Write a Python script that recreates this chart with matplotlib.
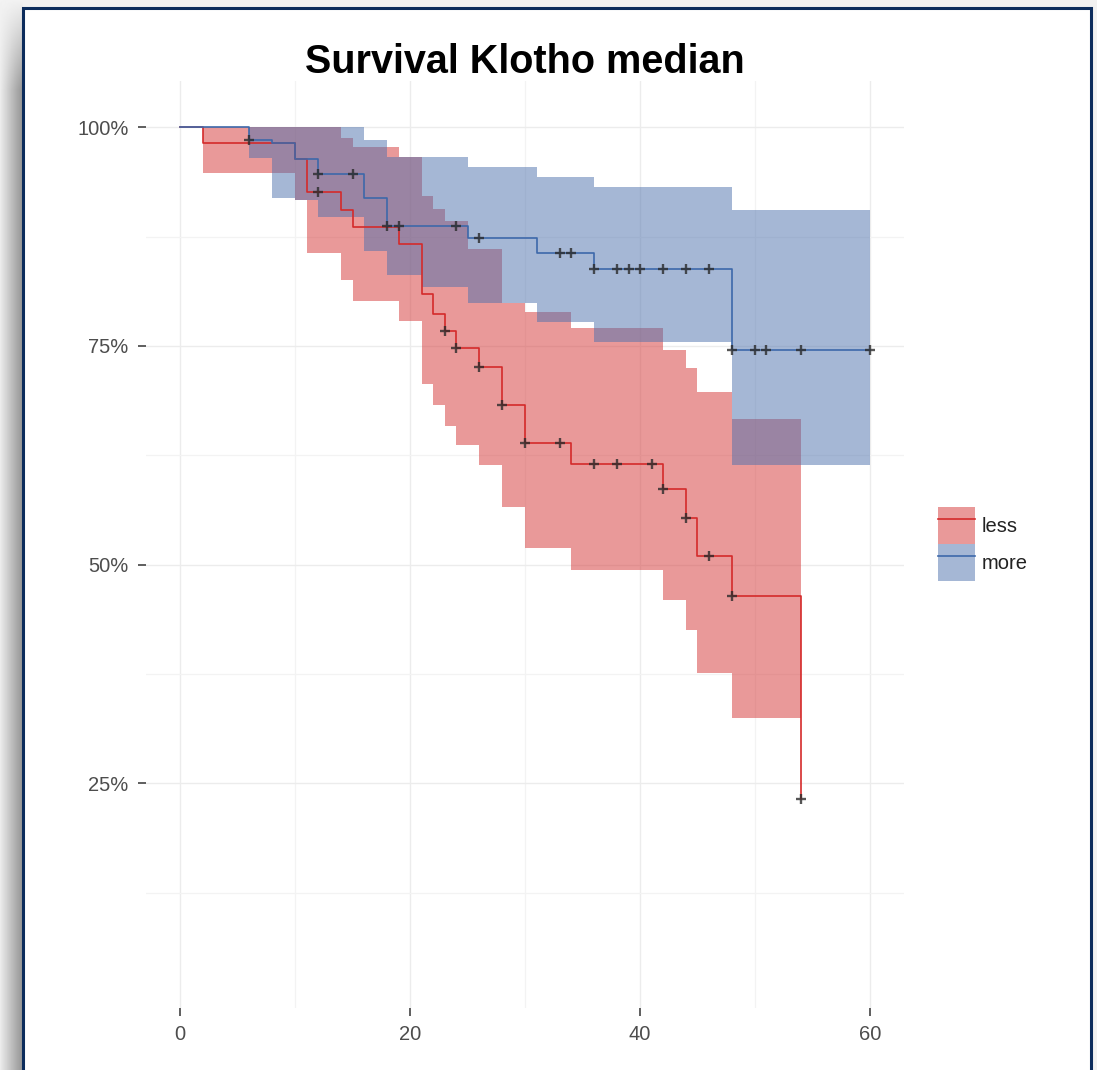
import numpy as np
import matplotlib
matplotlib.use('Agg')
import matplotlib.pyplot as plt
from matplotlib.patches import Rectangle, Patch
from matplotlib.lines import Line2D

plt.rcParams['font.family'] = ['Liberation Sans', 'DejaVu Sans']

# Kaplan-Meier estimate, group "less"
less_t = [0, 2, 10, 11, 14, 15, 19, 21, 22, 23, 24, 26, 28, 30, 34, 42, 44, 45, 48, 54]
less_s = [1.0, 0.982, 0.964, 0.926, 0.905, 0.886, 0.867, 0.810, 0.787, 0.767, 0.748,
          0.726, 0.682, 0.639, 0.615, 0.586, 0.553, 0.510, 0.464, 0.232]
less_cens = [12, 23, 24, 26, 28, 30, 33, 36, 38, 41, 42, 44, 46, 48, 54]

# confidence band, group "less"
less_ci_t = [2, 10, 11, 14, 15, 19, 21, 22, 23, 24, 25, 26, 28, 30, 34, 42, 44, 45, 48, 54]
less_lo = [0.948, 0.917, 0.856, 0.825, 0.802, 0.779, 0.707, 0.682, 0.659, 0.637, 0.637,
           0.614, 0.566, 0.519, 0.494, 0.460, 0.425, 0.376, 0.325, 0.325]
less_hi = [1.0, 1.0, 1.0, 0.988, 0.977, 0.966, 0.922, 0.907, 0.893, 0.893, 0.861,
           0.861, 0.799, 0.789, 0.770, 0.745, 0.725, 0.697, 0.667, 0.667]

# Kaplan-Meier estimate, group "more"
more_t = [0, 6, 8, 10, 12, 16, 18, 25, 31, 36, 48, 60]
more_s = [1.0, 0.986, 0.982, 0.964, 0.947, 0.919, 0.887, 0.874, 0.856, 0.838, 0.745, 0.745]
more_cens = [6, 12, 15, 18, 19, 24, 26, 33, 34, 36, 38, 39, 40, 42, 44, 46, 48, 50, 51, 54, 60]

# confidence band, group "more"
more_ci_t = [6, 8, 10, 12, 14, 16, 18, 21, 25, 31, 36, 48, 60]
more_lo = [0.965, 0.919, 0.917, 0.897, 0.897, 0.859, 0.831, 0.817, 0.799, 0.777, 0.754, 0.614, 0.614]
more_hi = [1.0, 1.0, 1.0, 1.0, 1.0, 0.986, 0.966, 0.966, 0.955, 0.943, 0.932, 0.905, 0.905]

groups = ['less', 'more']
x_ticks = [0, 20, 40, 60]
y_ticks = [0.25, 0.50, 0.75, 1.00]
y_labels = ['25%', '50%', '75%', '100%']

RED_FILL = '#d53535'
BLUE_FILL = '#4d71ad'
RED_LINE = '#d42a2a'
BLUE_LINE = '#3d68aa'


def surv_at(times, surv, t):
    idx = np.searchsorted(times, t, side='right') - 1
    return np.asarray(surv)[idx]


W, H = 1097, 1070
fig = plt.figure(figsize=(W / 100, H / 100), dpi=100)
fig.patch.set_facecolor('#f1f1f1')

# window frame with a soft shadow on the left
bg = fig.add_axes([0, 0, 1, 1], zorder=-10)
bg.set_xlim(0, W)
bg.set_ylim(H, 0)
bg.axis('off')
shade = np.linspace(0.95, 0.70, 24) ** 1.5
fade = np.clip(np.linspace(0, 1, H) * 12, 0, 1)[:, None]
strip = 0.95 - (0.95 - shade[None, :]) * fade
bg.imshow(strip, cmap='gray', vmin=0, vmax=1, extent=(0, 23, H, 0), aspect='auto')
bg.add_patch(Rectangle((23, 8), 1068, H, facecolor='white', edgecolor='#0c2c5c', lw=2.2))

ax = fig.add_axes([145.5 / W, (H - 1008) / H, 759 / W, (1008 - 81) / H])
ax.set_facecolor('none')

ax.fill_between(less_ci_t, less_lo, less_hi, step='post', color=RED_FILL, alpha=0.5, lw=0, zorder=1)
ax.fill_between(more_ci_t, more_lo, more_hi, step='post', color=BLUE_FILL, alpha=0.5, lw=0, zorder=2)

ax.step(less_t, less_s, where='post', color=RED_LINE, lw=1.2, zorder=3)
ax.step(more_t, more_s, where='post', color=BLUE_LINE, lw=1.2, zorder=3)

ax.plot(less_cens, surv_at(less_t, less_s, less_cens), '+', ms=6.5, mew=1.7, color='#2a2a2a', alpha=0.8, zorder=4)
ax.plot(more_cens, surv_at(more_t, more_s, more_cens), '+', ms=6.5, mew=1.7, color='#2a2a2a', alpha=0.8, zorder=4)

ax.set_xlim(-3, 63)
ax.set_ylim(-0.007, 1.053)
ax.set_xticks(x_ticks)
ax.set_xticks([10, 30, 50], minor=True)
ax.set_yticks(y_ticks)
ax.set_yticklabels(y_labels)
ax.set_yticks([0.125, 0.375, 0.625, 0.875], minor=True)
ax.grid(which='major', color='#ececec', lw=1.0, zorder=0)
ax.grid(which='minor', color='#f3f3f3', lw=0.9, zorder=0)
ax.set_axisbelow(True)
for s in ax.spines.values():
    s.set_visible(False)
ax.tick_params(which='major', length=5.8, width=1.1, color='#333333',
               labelcolor='#4d4d4d', labelsize=14.5, pad=6.5)
ax.tick_params(which='minor', length=0)

ax.set_title('Survival Klotho median', fontsize=28.5, fontweight='bold', pad=1)

handles = [
    (Patch(facecolor=RED_FILL, alpha=0.5, lw=0), Line2D([], [], color=RED_LINE, lw=1.2)),
    (Patch(facecolor=BLUE_FILL, alpha=0.5, lw=0), Line2D([], [], color=BLUE_LINE, lw=1.2)),
]
fig.legend(handles, groups, loc='upper left', bbox_to_anchor=(938 / W, 1 - 507 / H),
           frameon=False, fontsize=14.5, handlelength=1.85, handleheight=2.45,
           labelspacing=0, handletextpad=0.3, borderpad=0, borderaxespad=0,
           labelcolor='#222222')

fig.savefig('out.png', dpi=100)
